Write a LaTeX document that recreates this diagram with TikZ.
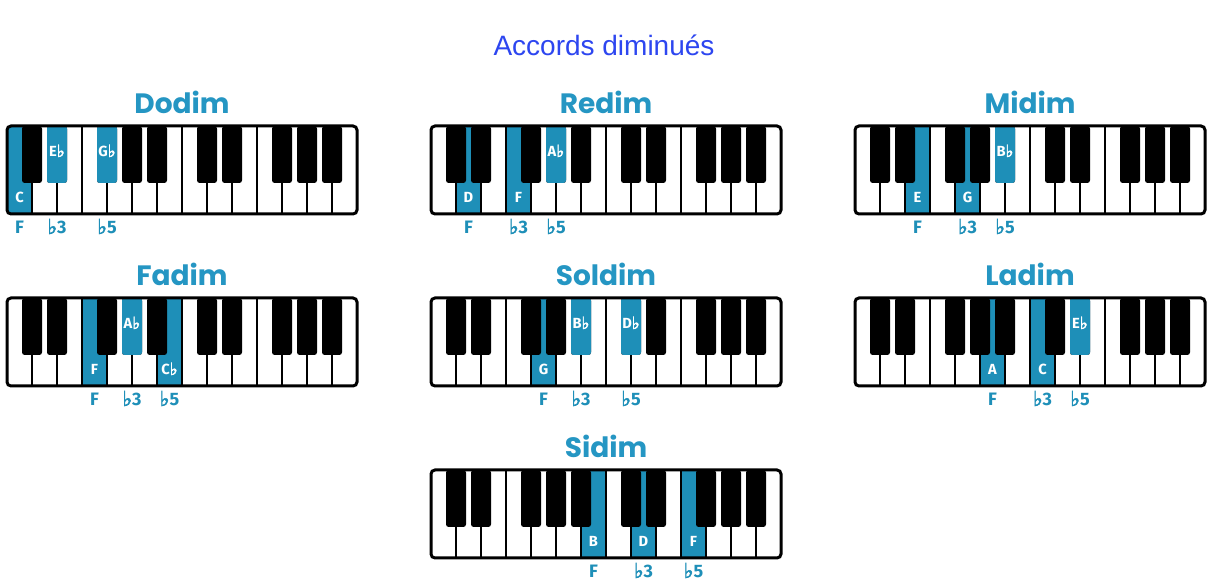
\documentclass[tikz,border=0pt]{standalone}
\usepackage{fontspec}
\setmainfont{Liberation Sans}
\newfontfamily\titlefont{Poppins}
\newfontfamily\notefont{Fira Sans}
\newfontfamily\symfont{DejaVu Sans}[Scale=1.15, FakeBold=2.5, BoldFeatures={FakeBold=2.5}]
\newcommand{\fl}{{\symfont\char"266D}}

\definecolor{keyblue}{RGB}{30,143,184}
\definecolor{titleblue}{RGB}{37,150,195}
\definecolor{headblue}{RGB}{45,70,240}

\tikzset{
	chordtitle/.style={anchor=base, inner sep=0pt, text=titleblue,
		font=\titlefont\bfseries\fontsize{21}{24}\selectfont},
	keylabel/.style={anchor=base, inner sep=0pt, text=white,
		font=\notefont\bfseries\fontsize{11}{13}\selectfont},
	intlabel/.style={anchor=base, inner sep=0pt, text=keyblue,
		font=\notefont\bfseries\fontsize{13.5}{16}\selectfont},
	blackkey/.style={fill=black, rounded corners=2},
	bluekey/.style={fill=keyblue, rounded corners=2},
	divider/.style={draw=black, line width=1.5pt},
	kbdframe/.style={draw=black, line width=2.25pt, rounded corners=3}
}

% #1 chord name, #2 x, #3 y, #4 white notes w/name/interval, #5 black notes
\newcommand{\pianokbd}[5]{%
	\begin{scope}[shift={(#2,#3)}]
		\fill[white] (0,0) rectangle (350,88);
		\foreach \w/\nm/\iv in {#4} {
			\fill[keyblue] (25*\w+1,0) rectangle (25*\w+24,88);
			\node[keylabel] (#1-w\w) at (25*\w+12.5,77) {\nm};
			\node[intlabel] (#1-iw\w) at (25*\w+12.5,108) {\iv};
		}
		\foreach \w in {1,...,13}
			\draw[divider] (25*\w,0) -- (25*\w,88);
		\foreach \bk in {1,2,4,5,6,8,9,11,12,13}
			\fill[blackkey] (25*\bk-10,0) rectangle (25*\bk+10,57);
		\foreach \bk/\nm/\iv in {#5} {
			\fill[bluekey] (25*\bk-10,0) rectangle (25*\bk+10,57);
			\node[keylabel] (#1-b\bk) at (25*\bk,31) {\nm};
			\node[intlabel] (#1-ib\bk) at (25*\bk,108) {\iv};
		}
		\draw[kbdframe] (0,0) rectangle (350,88);
		\node[chordtitle] (#1) at (175,-12) {#1};
	\end{scope}}

\begin{document}
\begin{tikzpicture}[x=0.75pt, y=-0.75pt]
	\useasboundingbox (0,0) rectangle (1208,584);
	\fill[white] (0,0) rectangle (1208,584);
	\node[anchor=base, inner sep=0pt, text=headblue, font=\fontsize{21}{24}\selectfont]
		(title) at (604,56) {Accords diminués};

	% row 1
	\pianokbd{Dodim}{7}{126}{0/C/F}{2/E\fl/\fl3, 4/G\fl/\fl5}
	\pianokbd{Redim}{431}{126}{1/D/F, 3/F/\fl3}{5/A\fl/\fl5}
	\pianokbd{Midim}{855}{126}{2/E/F, 4/G/\fl3}{6/B\fl/\fl5}
	% row 2
	\pianokbd{Fadim}{7}{298}{3/F/F, 6/C\fl/\fl5}{5/A\fl/\fl3}
	\pianokbd{Soldim}{431}{298}{4/G/F}{6/B\fl/\fl3, 8/D\fl/\fl5}
	\pianokbd{Ladim}{855}{298}{5/A/F, 7/C/\fl3}{9/E\fl/\fl5}
	% row 3
	\pianokbd{Sidim}{431}{470}{6/B/F, 8/D/\fl3, 10/F/\fl5}{}
\end{tikzpicture}
\end{document}
